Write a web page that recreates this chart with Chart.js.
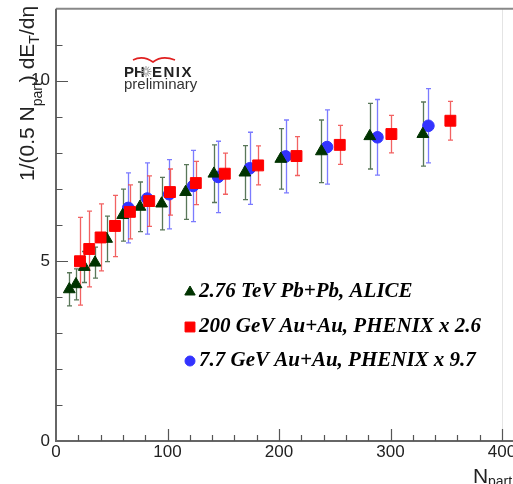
<!DOCTYPE html>
<html>
<head>
<meta charset="utf-8">
<script src="https://cdn.jsdelivr.net/npm/chart.js@4.4.1/dist/chart.umd.min.js"></script>
<style>
  html, body { margin: 0; padding: 0; background: #fff; }
  #wrap { width: 513px; height: 484px; }
</style>
</head>
<body>
<div id="wrap"><canvas id="chart" width="513" height="484"></canvas></div>
<script>
// 2.76 TeV Pb+Pb, ALICE
const aliceNpart = [11.9, 17.9, 25.4, 35.0, 45.4, 59.8, 75.3, 94.7, 116.2, 141.6, 169.4, 201.6, 238.0, 281.4, 329.0];
const aliceEt    = [4.21, 4.35, 4.83, 4.95, 5.61, 6.27, 6.50, 6.59, 6.91, 7.42, 7.45, 7.83, 8.04, 8.46, 8.52];
const aliceErr   = [0.46, 0.43, 0.43, 0.43, 0.63, 0.72, 0.69, 0.73, 0.76, 0.80, 0.75, 0.84, 0.87, 0.91, 0.89];

// 200 GeV Au+Au, PHENIX x 2.6
const phx200Npart = [21.5, 29.8, 40.0, 52.9, 66.3, 83.6, 102.2, 125.4, 151.4, 181.3, 215.7, 254.5, 300.8, 353.7];
const phx200Et    = [4.99, 5.33, 5.65, 5.97, 6.36, 6.66, 6.91, 7.16, 7.42, 7.65, 7.91, 8.22, 8.52, 8.89];
const phx200Err   = [1.22, 1.05, 0.93, 0.85, 0.75, 0.70, 0.64, 0.60, 0.57, 0.54, 0.54, 0.54, 0.52, 0.54];

// 7.7 GeV Au+Au, PHENIX x 9.7
const phx77Npart = [64.8, 81.8, 101.5, 123.0, 145.4, 173.8, 206.0, 243.1, 288.3, 334.0];
const phx77Et    = [6.47, 6.73, 6.85, 7.08, 7.33, 7.57, 7.90, 8.16, 8.43, 8.75];
const phx77Err   = [0.97, 0.99, 0.96, 0.99, 0.99, 1.00, 1.01, 1.03, 1.05, 1.03];

const xTicks = [0, 100, 200, 300, 400];
const yTicks = [0, 5, 10];

const legendLabels = [
    '2.76 TeV Pb+Pb, ALICE',
    '200 GeV Au+Au, PHENIX x 2.6',
    '7.7 GeV Au+Au, PHENIX x 9.7'
];

const SANS = '"Liberation Sans", Arial, sans-serif';
const SERIF = '"Liberation Serif", "Times New Roman", serif';

function points(xs, ys) {
    return xs.map((x, i) => ({ x: x, y: ys[i] }));
}

// error bars, frame, inward ticks, titles, legend, logo
const rootStyle = {
    id: 'rootStyle',
    beforeDatasetsDraw(chart) {
        const { ctx, scales: { x, y } } = chart;
        // draw bars of the bottom-most datasets first
        const order = chart.data.datasets.slice().sort((a, b) => b.order - a.order);
        order.forEach(ds => {
            ctx.save();
            ctx.strokeStyle = ds.errColor;
            ctx.lineWidth = 1.3;
            ds.data.forEach((p, i) => {
                const px = Math.round(x.getPixelForValue(p.x)) + 0.5;
                const top = y.getPixelForValue(p.y + ds.errors[i]);
                const bot = y.getPixelForValue(p.y - ds.errors[i]);
                ctx.beginPath();
                ctx.moveTo(px, top); ctx.lineTo(px, bot);
                ctx.moveTo(px - 2.5, top); ctx.lineTo(px + 2.5, top);
                ctx.moveTo(px - 2.5, bot); ctx.lineTo(px + 2.5, bot);
                ctx.stroke();
            });
            ctx.restore();
        });
    },
    afterDraw(chart) {
        const { ctx, chartArea: a, scales: { x, y } } = chart;
        ctx.save();

        // frame
        ctx.strokeStyle = '#e4e4e4';
        ctx.lineWidth = 1;
        ctx.beginPath();
        ctx.moveTo(a.right + 0.5, a.top); ctx.lineTo(a.right + 0.5, a.bottom);
        ctx.stroke();
        ctx.strokeStyle = '#888';
        ctx.lineWidth = 2;
        ctx.beginPath();
        ctx.moveTo(a.left, a.top); ctx.lineTo(chart.width, a.top);
        ctx.stroke();
        ctx.strokeStyle = '#666';
        ctx.beginPath();
        ctx.moveTo(a.left, a.top); ctx.lineTo(a.left, a.bottom);
        ctx.lineTo(chart.width, a.bottom);
        ctx.stroke();

        // inward ticks
        ctx.lineWidth = 1.2;
        ctx.strokeStyle = '#555';
        ctx.beginPath();
        for (let v = 1; v < 12; v++) {
            const py = Math.round(y.getPixelForValue(v)) + 0.5;
            const len = v % 5 === 0 ? 12 : 6.5;
            ctx.moveTo(a.left, py); ctx.lineTo(a.left + len, py);
        }
        for (let v = 20; v <= 400; v += 20) {
            const px = Math.round(x.getPixelForValue(v)) + 0.5;
            const len = v % 100 === 0 ? 12 : 6;
            ctx.moveTo(px, a.bottom); ctx.lineTo(px, a.bottom - len);
        }
        ctx.stroke();

        // y title, rotated, with subscripts
        ctx.save();
        ctx.translate(34, 181);
        ctx.rotate(-Math.PI / 2);
        ctx.fillStyle = '#222';
        let cx = 0;
        const piece = (txt, size, dy) => {
            ctx.font = size + 'px ' + SANS;
            ctx.fillText(txt, cx, dy);
            cx += ctx.measureText(txt).width;
        };
        piece('1/(0.5 N', 21, 0);
        piece('part', 14, 8);
        piece(') dE', 21, 0);
        piece('T', 14, 5);
        piece('/d\u03b7', 21, 0);
        ctx.restore();

        // x title
        ctx.fillStyle = '#222';
        ctx.font = '21px ' + SANS;
        ctx.fillText('N', 473, 483);
        ctx.font = '14px ' + SANS;
        ctx.fillText('part', 488, 486);

        // legend
        const H = Chart.helpers;
        const legendY = [292, 327, 361];
        const legendStyles = [
            { pointStyle: 'triangle', radius: 6, color: '#003300' },
            { pointStyle: 'rect', radius: 7, color: '#ff0000' },
            { pointStyle: 'circle', radius: 5, color: '#3333ff' }
        ];
        legendLabels.forEach((label, i) => {
            const st = legendStyles[i];
            ctx.fillStyle = st.color;
            ctx.strokeStyle = st.color;
            ctx.lineWidth = 1;
            H.drawPoint(ctx, { pointStyle: st.pointStyle, radius: st.radius, rotation: 0, borderWidth: 1 }, 190, legendY[i]);
            ctx.fillStyle = '#000';
            ctx.font = 'italic bold 21px ' + SERIF;
            ctx.textBaseline = 'middle';
            ctx.fillText(label, 199, legendY[i]);
            ctx.textBaseline = 'alphabetic';
        });

        // PHENIX preliminary logo
        ctx.strokeStyle = '#e02020';
        ctx.lineWidth = 1.6;
        ctx.beginPath();
        ctx.moveTo(133, 60);
        ctx.quadraticCurveTo(143, 55, 153, 62);
        ctx.quadraticCurveTo(162, 55, 175, 60);
        ctx.stroke();
        ctx.fillStyle = '#222';
        ctx.font = 'bold 15px ' + SANS;
        ctx.fillText('PH', 124, 77);
        ctx.letterSpacing = '1.5px';
        ctx.fillText('ENIX', 152, 77);
        ctx.letterSpacing = '0px';
        ctx.strokeStyle = '#999';
        ctx.lineWidth = 1;
        ctx.beginPath();
        for (let k = 0; k < 12; k++) {
            const ang = k * Math.PI / 6;
            ctx.moveTo(146 + Math.cos(ang) * 1.5, 71.5 + Math.sin(ang) * 1.5);
            ctx.lineTo(146 + Math.cos(ang) * 5.5, 71.5 + Math.sin(ang) * 5.5);
        }
        ctx.stroke();
        ctx.fillStyle = '#333';
        ctx.font = '15px ' + SANS;
        ctx.fillText('preliminary', 124, 89);

        ctx.restore();
    }
};

new Chart(document.getElementById('chart'), {
    type: 'scatter',
    data: {
        datasets: [
            {
                label: legendLabels[0],
                data: points(aliceNpart, aliceEt),
                errors: aliceErr,
                errColor: 'rgba(60, 95, 60, 0.85)',
                pointStyle: 'triangle',
                pointRadius: 6.8,
                pointBackgroundColor: '#003300',
                pointBorderColor: '#003300',
                pointBorderWidth: 1,
                order: 1
            },
            {
                label: legendLabels[1],
                data: points(phx200Npart, phx200Et),
                errors: phx200Err,
                errColor: 'rgba(240, 70, 70, 0.85)',
                pointStyle: 'rect',
                pointRadius: 7.7,
                pointBackgroundColor: '#ff0000',
                pointBorderColor: '#ff0000',
                pointBorderWidth: 1,
                order: 0
            },
            {
                label: legendLabels[2],
                data: points(phx77Npart, phx77Et),
                errors: phx77Err,
                errColor: 'rgba(100, 100, 255, 0.85)',
                pointStyle: 'circle',
                pointRadius: 5.8,
                pointBackgroundColor: '#3333ff',
                pointBorderColor: '#3333ff',
                pointBorderWidth: 1,
                order: 2
            }
        ]
    },
    options: {
        responsive: false,
        animation: false,
        layout: { padding: { top: 6, right: 11, left: 0, bottom: 0 } },
        plugins: {
            legend: { display: false },
            tooltip: { enabled: false }
        },
        scales: {
            x: {
                type: 'linear',
                min: 0,
                max: 400,
                grid: { display: false, drawTicks: false },
                border: { display: false },
                ticks: {
                    stepSize: 100,
                    autoSkip: false,
                    maxRotation: 0,
                    padding: 1,
                    color: '#222',
                    font: { family: SANS, size: 17 },
                    callback: v => xTicks.includes(v) ? String(v) : ''
                },
                afterFit: s => { s.height = 43; s.paddingLeft = 0; s.paddingRight = 0; }
            },
            y: {
                type: 'linear',
                min: 0,
                max: 12,
                grid: { display: false, drawTicks: false },
                border: { display: false },
                ticks: {
                    stepSize: 1,
                    autoSkip: false,
                    padding: 6,
                    color: '#222',
                    font: { family: SANS, size: 17 },
                    callback: v => yTicks.includes(v) ? String(v) : ''
                },
                afterFit: s => { s.width = 56; s.paddingTop = 0; s.paddingBottom = 0; }
            }
        }
    },
    plugins: [rootStyle]
});
</script>
</body>
</html>
